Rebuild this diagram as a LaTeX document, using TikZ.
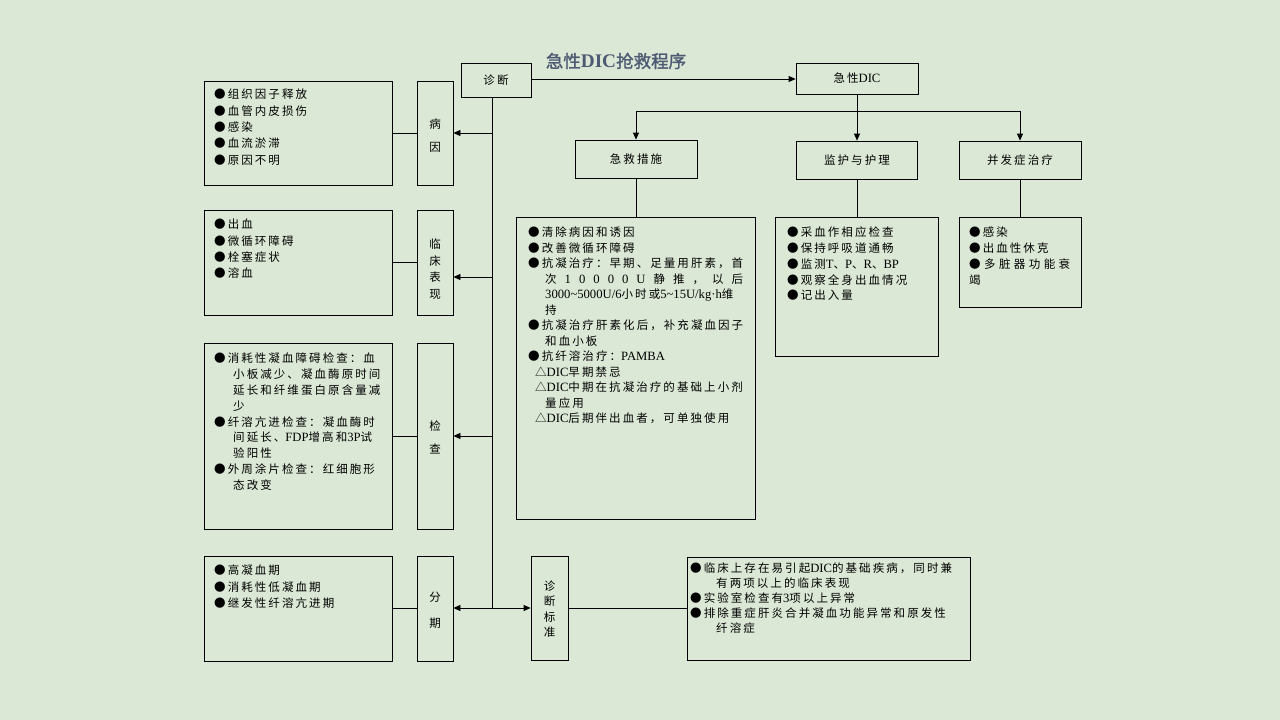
\documentclass[tikz,border=0pt]{standalone}
\usepackage{fontspec}
\setmainfont{Liberation Serif}
\newfontfamily\cjk[LetterSpace=18]{Noto Sans CJK SC}
\newfontfamily\cjkt[FakeBold=1.5]{Noto Sans CJK SC}
\newfontfamily\latfont[Scale=1.1]{Liberation Serif}
\newcommand\lat[1]{{\latfont #1}}
\newcommand\ind[1]{\hspace*{#1pt}}
\usetikzlibrary{arrows.meta}
\definecolor{bg}{RGB}{219,232,214}
\definecolor{ttl}{RGB}{78,90,115}
\begin{document}
\begin{tikzpicture}[x=1pt,y=-1pt,
  box/.style={draw, line width=0.8pt, inner sep=0pt, align=center,
    font=\cjk\fontsize{11.5}{16}\selectfont},
  txt/.style={anchor=north west, inner sep=0pt, align=left},
  ln/.style={line width=0.8pt},
  arr/.style={line width=0.8pt, -{Triangle[length=7pt,width=6pt]}},
  darr/.style={line width=0.8pt, {Triangle[length=7pt,width=6pt]}-{Triangle[length=7pt,width=6pt]}}]
\fill[bg] (0,0) rectangle (1280,720);
\useasboundingbox (0,0) rectangle (1280,720);

% title
\node[text=ttl, inner sep=0pt, font=\fontsize{17.5}{20}\selectfont] (title) at (616,61)
  {\cjkt 急性{\latfont\bfseries DIC}抢救程序};

% top boxes
\node[box, minimum width=70pt, minimum height=34pt] (zd) at (496,80) {诊断};
\node[box, minimum width=122pt, minimum height=31pt] (jx) at (857,78.5) {急性\lat{DIC}};
\node[box, minimum width=122pt, minimum height=38pt] (jj) at (636,159) {急救措施};
\node[box, minimum width=121pt, minimum height=38pt] (jh) at (857,160) {监护与护理};
\node[box, minimum width=122pt, minimum height=38pt] (bf) at (1020,160) {并发症治疗};

% detail boxes right
\node[box, minimum width=239pt, minimum height=302pt] (jjd) at (636,368) {};
\node[box, minimum width=163pt, minimum height=139pt] (jhd) at (857,286.5) {};
\node[box, minimum width=122pt, minimum height=90pt] (bfd) at (1020,262) {};

% left column
\node[box, minimum width=188pt, minimum height=104pt] (byd) at (298,133) {};
\node[box, minimum width=36pt, minimum height=104pt] (byl) at (435,133) {};
\node[inner sep=0pt, align=center, font=\cjk\fontsize{11.5}{23}\selectfont] (bylt) at (435,135.5) {病\\因};
\node[box, minimum width=188pt, minimum height=105pt] (lcd) at (298,262.5) {};
\node[box, minimum width=36pt, minimum height=105pt] (lcl) at (435,262.5) {};
\node[inner sep=0pt, align=center, font=\cjk\fontsize{11.5}{16.6}\selectfont] (lclt) at (435,269) {临\\床\\表\\现};
\node[box, minimum width=188pt, minimum height=186pt] (jcd) at (298,436) {};
\node[box, minimum width=36pt, minimum height=186pt] (jcl) at (435,436) {};
\node[inner sep=0pt, align=center, font=\cjk\fontsize{11.5}{23}\selectfont] (jclt) at (435,437) {检\\查};
\node[box, minimum width=188pt, minimum height=105pt] (fqd) at (298,608.5) {};
\node[box, minimum width=36pt, minimum height=105pt] (fql) at (435,608.5) {};
\node[inner sep=0pt, align=center, font=\cjk\fontsize{11.5}{26}\selectfont] (fqlt) at (435,610) {分\\期};
\node[box, minimum width=37pt, minimum height=104pt] (zbl) at (549.5,608) {};
\node[inner sep=0pt, align=center, font=\cjk\fontsize{11.5}{15.5}\selectfont] (zblt) at (549.5,609) {诊\\断\\标\\准};
\node[box, minimum width=283pt, minimum height=103pt] (zbd) at (828.5,608.5) {};

% texts
\node[txt, font=\cjk\fontsize{11.5}{16.3}\selectfont] (byt) at (214,89)
  {●组织因子释放\\●血管内皮损伤\\●感染\\●血流淤滞\\●原因不明};
\node[txt, font=\cjk\fontsize{11.5}{16.3}\selectfont] (lct) at (214,219)
  {●出血\\●微循环障碍\\●栓塞症状\\●溶血};
\node[txt, font=\cjk\fontsize{11.5}{15.8}\selectfont] (jct) at (214,353)
  {●消耗性凝血障碍检查：血\\\ind{19}小板减少、凝血酶原时间\\\ind{19}延长和纤维蛋白原含量减\\\ind{19}少\\
   ●纤溶亢进检查：凝血酶时\\\ind{19}间延长、\lat{FDP}增高和\lat{3P}试\\\ind{19}验阳性\\
   ●外周涂片检查：红细胞形\\\ind{19}态改变};
\node[txt, font=\cjk\fontsize{11.5}{16.3}\selectfont] (fqt) at (214,565)
  {●高凝血期\\●消耗性低凝血期\\●继发性纤溶亢进期};
\node[txt, font=\cjk\fontsize{11.5}{15.5}\selectfont] (jjt) at (528,227)
  {●清除病因和诱因\\●改善微循环障碍\\●抗凝治疗：早期、足量用肝素，首\\
   \ind{17}\makebox[198pt][s]{次\ \lat{1}\ \lat{0}\ \lat{0}\ \lat{0}\ \lat{0}\ \lat{U}\ 静\ 推\ ，\ 以\ 后}\\
   \ind{17}\lat{3000\textasciitilde5000U/6}小时或\lat{5\textasciitilde15U/kg·h}维\\\ind{17}持\\
   ●抗凝治疗肝素化后，补充凝血因子\\\ind{17}和血小板\\
   ●抗纤溶治疗：\lat{PAMBA}\\
   \ind{7}△\lat{DIC}早期禁忌\\
   \ind{7}△\lat{DIC}中期在抗凝治疗的基础上小剂\\\ind{17}量应用\\
   \ind{7}△\lat{DIC}后期伴出血者，可单独使用};
\node[txt, font=\cjk\fontsize{11.5}{15.75}\selectfont] (jht) at (787,227)
  {●采血作相应检查\\●保持呼吸道通畅\\●监测\lat{T}、\lat{P}、\lat{R}、\lat{BP}\\●观察全身出血情况\\●记出入量};
\node[txt, font=\cjk\fontsize{11.5}{15.75}\selectfont] (bft) at (969,227)
  {●感染\\●出血性休克\\\makebox[101pt][s]{●\ 多\ 脏\ 器\ 功\ 能\ 衰}\\竭};
\node[txt, font=\cjk\fontsize{11.5}{15}\selectfont] (zbt) at (690,563)
  {●临床上存在易引起\lat{DIC}的基础疾病，同时兼\\\ind{26}有两项以上的临床表现\\
   ●实验室检查有\lat{3}项以上异常\\●排除重症肝炎合并凝血功能异常和原发性\\\ind{26}纤溶症};

% connectors
\draw[arr] (zd.east |- 0,79) -- (jx.west |- 0,79);
\coordinate (hb) at (857,111);
\draw[ln] (jx.south) -- (hb);
\draw[ln] (jj.north |- hb) -- (bf.north |- hb);
\draw[arr] (jj.north |- hb) -- (jj.north);
\draw[arr] (hb) -- (jh.north);
\draw[arr] (bf.north |- hb) -- (bf.north);
\draw[ln] (jj.south) -- (jjd.north);
\draw[ln] (jh.south) -- (jhd.north);
\draw[ln] (bf.south) -- (bfd.north);

\coordinate (tt) at (492,97);
\coordinate (tb) at (492,608);
\draw[ln] (tt) -- (tb);
\draw[ln] (byd.east) -- (byl.west);
\draw[arr] (tt |- byl.east) -- (byl.east);
\draw[ln] (lcd.east) -- (lcl.west);
\coordinate (a2) at ([yshift=-14.5pt]lcl.east);
\draw[arr] (tt |- a2) -- (a2);
\draw[ln] (jcd.east) -- (jcl.west);
\draw[arr] (tt |- jcl.east) -- (jcl.east);
\draw[ln] (fqd.east |- tb) -- (fql.west |- tb);
\draw[darr] (fql.east |- tb) -- (zbl.west |- tb);
\draw[ln] (zbl.east |- tb) -- (zbd.west |- tb);
\end{tikzpicture}
\end{document}
